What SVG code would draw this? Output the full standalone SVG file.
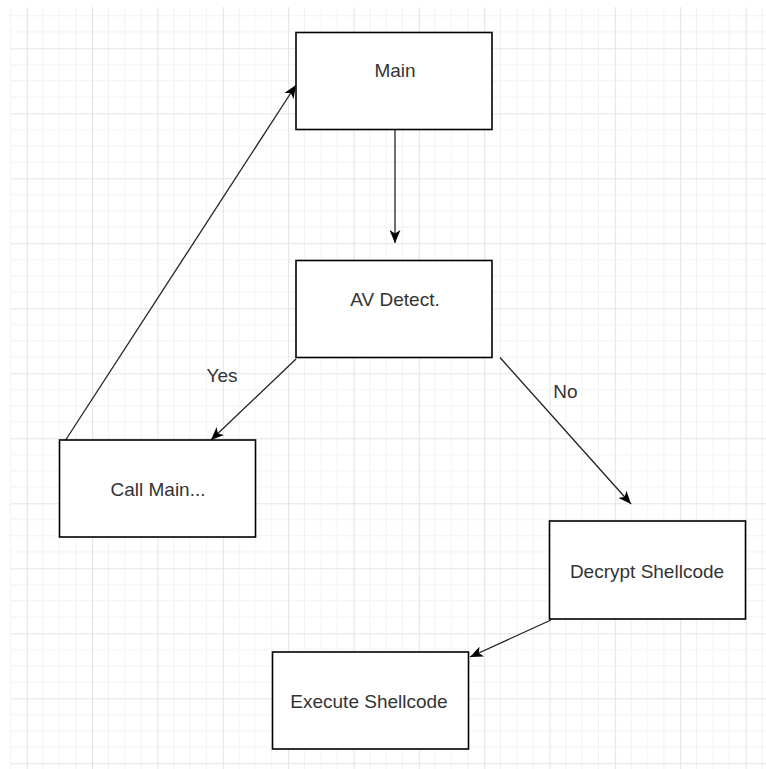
<svg xmlns="http://www.w3.org/2000/svg" width="766" height="769" viewBox="0 0 766 769">
  <style>
    .box { fill: #ffffff; stroke: #000000; stroke-width: 1.6; }
    .lbl { font-family: "Liberation Sans", Arial, sans-serif; font-size: 19px; fill: #333333; text-anchor: middle; }
    .edge { fill: none; stroke: #222222; stroke-width: 1.3; }
    .minor { stroke: #f2f2f2; stroke-width: 1; }
    .major { stroke: #e4e4e4; stroke-width: 1.2; }
  </style>
  <defs>
    <pattern id="grid" patternUnits="userSpaceOnUse" x="26.7" y="48.3" width="65.35" height="65">
      <line class="minor" x1="16.34" y1="0" x2="16.34" y2="65"/>
      <line class="minor" x1="32.67" y1="0" x2="32.67" y2="65"/>
      <line class="minor" x1="49.01" y1="0" x2="49.01" y2="65"/>
      <line class="minor" x1="0" y1="16.25" x2="65.35" y2="16.25"/>
      <line class="minor" x1="0" y1="32.5" x2="65.35" y2="32.5"/>
      <line class="minor" x1="0" y1="48.75" x2="65.35" y2="48.75"/>
      <line class="major" x1="0.5" y1="0" x2="0.5" y2="65"/>
      <line class="major" x1="0" y1="0.5" x2="65.35" y2="0.5"/>
    </pattern>
    <marker id="arrow" markerUnits="userSpaceOnUse" viewBox="0 0 13 11" refX="13" refY="5.5" markerWidth="13" markerHeight="11" orient="auto">
      <path d="M0,0 L13,5.5 L0,11 L3.5,5.5 Z" fill="#000000"/>
    </marker>
  </defs>
  <rect x="0" y="0" width="766" height="769" fill="#ffffff"/>
  <rect x="10" y="7" width="756" height="762" fill="url(#grid)"/>

  <g id="connectors">
    <line class="edge" x1="395" y1="129.5" x2="395" y2="243" stroke-width="1.7" marker-end="url(#arrow)"/>
    <line class="edge" x1="296" y1="359" x2="211" y2="440" marker-end="url(#arrow)"/>
    <line class="edge" x1="500" y1="357.5" x2="631" y2="504" marker-end="url(#arrow)"/>
    <line class="edge" x1="551" y1="620" x2="470" y2="657" marker-end="url(#arrow)"/>
    <line class="edge" x1="65" y1="441" x2="296" y2="85" marker-end="url(#arrow)"/>
    <text class="lbl" x="222" y="382">Yes</text>
    <text class="lbl" x="565.5" y="398">No</text>
  </g>

  <g id="main">
    <rect class="box" x="296" y="32.5" width="196" height="97"/>
    <text class="lbl" x="395" y="77">Main</text>
  </g>
  <g id="av-detect">
    <rect class="box" x="296" y="260.5" width="196" height="97"/>
    <text class="lbl" x="395" y="306">AV Detect.</text>
  </g>
  <g id="call-main">
    <rect class="box" x="59.5" y="440" width="196" height="97"/>
    <text class="lbl" x="158" y="496">Call Main...</text>
  </g>
  <g id="decrypt-shellcode">
    <rect class="box" x="549.5" y="521" width="196" height="98"/>
    <text class="lbl" x="647" y="578">Decrypt Shellcode</text>
  </g>
  <g id="execute-shellcode">
    <rect class="box" x="272.5" y="652" width="196" height="97"/>
    <text class="lbl" x="369" y="708">Execute Shellcode</text>
  </g>
</svg>
